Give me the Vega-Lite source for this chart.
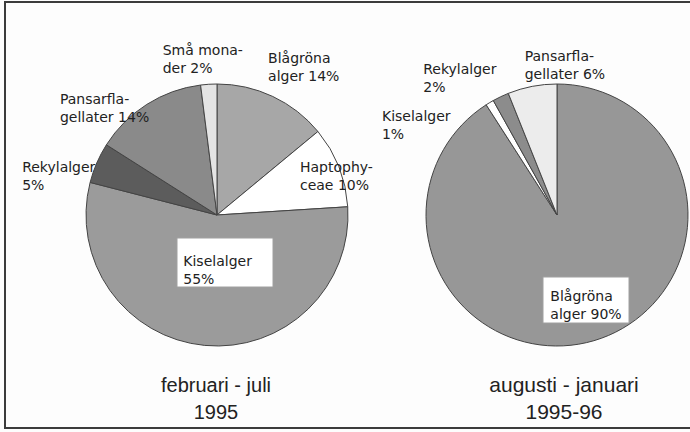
{
  "$schema": "https://vega.github.io/schema/vega-lite/v6.json",
  "width": 690,
  "height": 432,
  "autosize": {"type": "fit", "contains": "padding"},
  "padding": {"left": 5, "top": 2, "right": -4, "bottom": 4},
  "background": "#fdfdfd",
  "config": {"view": {"stroke": "#3c3c3c", "strokeWidth": 2}},
  "datasets": {
    "slices": [
      {"period": "1995", "order": 1, "group": "Blågröna alger", "pct": 14, "label": "Blågröna\nalger 14%"},
      {"period": "1995", "order": 2, "group": "Haptophyceae", "pct": 10, "label": "Haptophy-\nceae 10%"},
      {"period": "1995", "order": 3, "group": "Kiselalger", "pct": 55, "label": "Kiselalger\n55%"},
      {"period": "1995", "order": 4, "group": "Rekylalger", "pct": 5, "label": "Rekylalger\n5%"},
      {"period": "1995", "order": 5, "group": "Pansarflagellater", "pct": 14, "label": "Pansarfla-\ngellater 14%"},
      {"period": "1995", "order": 6, "group": "Små monader", "pct": 2, "label": "Små mona-\nder 2%"},
      {"period": "1995-96", "order": 1, "group": "Blågröna alger", "pct": 90, "label": "Blågröna\nalger 90%"},
      {"period": "1995-96", "order": 2, "group": "Kiselalger", "pct": 1, "label": "Kiselalger\n1%"},
      {"period": "1995-96", "order": 3, "group": "Rekylalger", "pct": 2, "label": "Rekylalger\n2%"},
      {"period": "1995-96", "order": 4, "group": "Pansarflagellater", "pct": 6, "label": "Pansarfla-\ngellater 6%"}
    ],
    "periods": [
      {"period": "1995", "title": "februari - juli\n1995"},
      {"period": "1995-96", "title": "augusti - januari\n1995-96"}
    ]
  },
  "encoding": {
    "x": {"field": "period", "type": "nominal", "scale": {"type": "point", "domain": ["1995", "1995-96"], "range": [212, 552], "padding": 0}, "axis": null}
  },
  "layer": [
    {
      "data": {"name": "slices"},
      "transform": [
        {"joinaggregate": [{"op": "sum", "field": "pct", "as": "total"}], "groupby": ["period"]},
        {"window": [{"op": "sum", "field": "pct", "as": "cum"}], "groupby": ["period"], "sort": [{"field": "order"}], "frame": [null, 0]},
        {"calculate": "(datum.cum - datum.pct) / datum.total", "as": "start"},
        {"calculate": "datum.cum / datum.total", "as": "end"},
        {"calculate": "(datum.cum - datum.pct / 2) / datum.total", "as": "mid"},
        {"calculate": "datum.period + ' ' + datum.group", "as": "key"}
      ],
      "layer": [
        {
          "mark": {"type": "arc", "outerRadius": 131, "stroke": "#444444", "strokeWidth": 1},
          "encoding": {
            "theta": {"field": "start", "type": "quantitative", "stack": null, "scale": {"domain": [0, 1], "nice": false, "zero": false}},
            "theta2": {"field": "end"},
            "color": {
              "field": "key", "type": "nominal", "legend": null,
              "scale": {
                "domain": ["1995 Blågröna alger", "1995 Haptophyceae", "1995 Kiselalger", "1995 Rekylalger", "1995 Pansarflagellater", "1995 Små monader", "1995-96 Blågröna alger", "1995-96 Kiselalger", "1995-96 Rekylalger", "1995-96 Pansarflagellater"],
                "range": ["#a7a7a7", "#ffffff", "#9b9b9b", "#5c5c5c", "#8a8a8a", "#e4e4e4", "#979797", "#ffffff", "#8c8c8c", "#ececec"]
              }
            }
          }
        },
        {
          "transform": [{"filter": "datum.key == '1995 Kiselalger'"}],
          "mark": {"type": "point", "shape": "M-0.8,0.46H1.12V1.44H-0.8Z", "size": 10000, "filled": true, "fill": "#ffffff", "stroke": "#a0a0a0", "strokeWidth": 1, "opacity": 1},
          "encoding": {}
        },
        {
          "transform": [{"filter": "datum.key == '1995-96 Blågröna alger'"}],
          "mark": {"type": "point", "shape": "M-0.28,1.24H1.44V2.16H-0.28Z", "size": 10000, "filled": true, "fill": "#ffffff", "stroke": "#a0a0a0", "strokeWidth": 1, "opacity": 1},
          "encoding": {}
        },
        {
          "transform": [{"filter": "datum.key == '1995 Små monader'"}],
          "mark": {"type": "text", "font": "DejaVu Sans", "fontSize": 14, "align": "left", "baseline": "middle", "lineBreak": "\n", "lineHeight": 18, "color": "#222222", "radius": 165, "dx": -44, "dy": 1},
          "encoding": {"theta": {"field": "mid", "type": "quantitative", "scale": {"domain": [0, 1], "nice": false, "zero": false}}, "text": {"field": "label"}}
        },
        {
          "transform": [{"filter": "datum.key == '1995 Blågröna alger'"}],
          "mark": {"type": "text", "font": "DejaVu Sans", "fontSize": 14, "align": "left", "baseline": "middle", "lineBreak": "\n", "lineHeight": 18, "color": "#222222", "radius": 160, "dx": -17, "dy": -11},
          "encoding": {"theta": {"field": "mid", "type": "quantitative", "scale": {"domain": [0, 1], "nice": false, "zero": false}}, "text": {"field": "label"}}
        },
        {
          "transform": [{"filter": "datum.key == '1995 Pansarflagellater'"}],
          "mark": {"type": "text", "font": "DejaVu Sans", "fontSize": 14, "align": "left", "baseline": "middle", "lineBreak": "\n", "lineHeight": 18, "color": "#222222", "radius": 170, "dx": -66, "dy": 29},
          "encoding": {"theta": {"field": "mid", "type": "quantitative", "scale": {"domain": [0, 1], "nice": false, "zero": false}}, "text": {"field": "label"}}
        },
        {
          "transform": [{"filter": "datum.key == '1995 Rekylalger'"}],
          "mark": {"type": "text", "font": "DejaVu Sans", "fontSize": 14, "align": "left", "baseline": "middle", "lineBreak": "\n", "lineHeight": 18, "color": "#222222", "radius": 160, "dx": -48, "dy": 17},
          "encoding": {"theta": {"field": "mid", "type": "quantitative", "scale": {"domain": [0, 1], "nice": false, "zero": false}}, "text": {"field": "label"}}
        },
        {
          "transform": [{"filter": "datum.key == '1995 Haptophyceae'"}],
          "mark": {"type": "text", "font": "DejaVu Sans", "fontSize": 14, "align": "left", "baseline": "middle", "lineBreak": "\n", "lineHeight": 18, "color": "#222222", "radius": 100, "dx": -10, "dy": -10},
          "encoding": {"theta": {"field": "mid", "type": "quantitative", "scale": {"domain": [0, 1], "nice": false, "zero": false}}, "text": {"field": "label"}}
        },
        {
          "transform": [{"filter": "datum.key == '1995 Kiselalger'"}],
          "mark": {"type": "text", "font": "DejaVu Sans", "fontSize": 14, "align": "left", "baseline": "middle", "lineBreak": "\n", "lineHeight": 18, "color": "#222222", "radius": 50, "dx": -29, "dy": -3},
          "encoding": {"theta": {"field": "mid", "type": "quantitative", "scale": {"domain": [0, 1], "nice": false, "zero": false}}, "text": {"field": "label"}}
        },
        {
          "transform": [{"filter": "datum.key == '1995-96 Pansarflagellater'"}],
          "mark": {"type": "text", "font": "DejaVu Sans", "fontSize": 14, "align": "left", "baseline": "middle", "lineBreak": "\n", "lineHeight": 18, "color": "#222222", "radius": 160, "dx": -2, "dy": -1},
          "encoding": {"theta": {"field": "mid", "type": "quantitative", "scale": {"domain": [0, 1], "nice": false, "zero": false}}, "text": {"field": "label"}}
        },
        {
          "transform": [{"filter": "datum.key == '1995-96 Rekylalger'"}],
          "mark": {"type": "text", "font": "DejaVu Sans", "fontSize": 14, "align": "left", "baseline": "middle", "lineBreak": "\n", "lineHeight": 18, "color": "#222222", "radius": 160, "dx": -65, "dy": -1},
          "encoding": {"theta": {"field": "mid", "type": "quantitative", "scale": {"domain": [0, 1], "nice": false, "zero": false}}, "text": {"field": "label"}}
        },
        {
          "transform": [{"filter": "datum.key == '1995-96 Kiselalger'"}],
          "mark": {"type": "text", "font": "DejaVu Sans", "fontSize": 14, "align": "left", "baseline": "middle", "lineBreak": "\n", "lineHeight": 18, "color": "#222222", "radius": 150, "dx": -98, "dy": 31},
          "encoding": {"theta": {"field": "mid", "type": "quantitative", "scale": {"domain": [0, 1], "nice": false, "zero": false}}, "text": {"field": "label"}}
        },
        {
          "transform": [{"filter": "datum.key == '1995-96 Blågröna alger'"}],
          "mark": {"type": "text", "font": "DejaVu Sans", "fontSize": 14, "align": "left", "baseline": "middle", "lineBreak": "\n", "lineHeight": 18, "color": "#222222", "radius": 90, "dx": -32, "dy": -4},
          "encoding": {"theta": {"field": "mid", "type": "quantitative", "scale": {"domain": [0, 1], "nice": false, "zero": false}}, "text": {"field": "label"}}
        }
      ]
    },
    {
      "data": {"name": "periods"},
      "layer": [
        {
          "transform": [{"filter": "datum.period == '1995'"}],
          "mark": {"type": "text", "font": "Liberation Sans", "fontSize": 20, "align": "center", "baseline": "middle", "lineBreak": "\n", "lineHeight": 27, "color": "#222222", "theta": 3.14159, "radius": 171, "dx": -1},
          "encoding": {"text": {"field": "title"}}
        },
        {
          "transform": [{"filter": "datum.period == '1995-96'"}],
          "mark": {"type": "text", "font": "Liberation Sans", "fontSize": 21, "align": "center", "baseline": "middle", "lineBreak": "\n", "lineHeight": 27, "color": "#222222", "theta": 3.14159, "radius": 171, "dx": 7},
          "encoding": {"text": {"field": "title"}}
        }
      ]
    }
  ]
}
